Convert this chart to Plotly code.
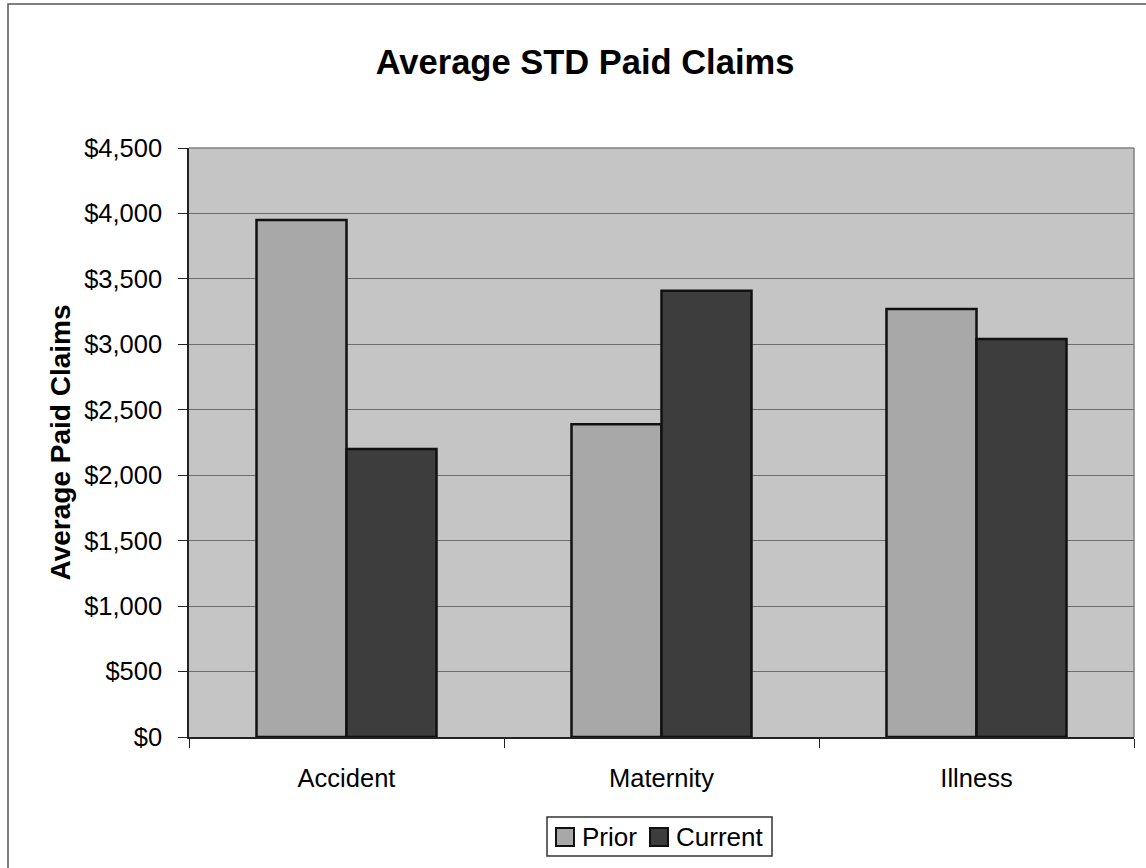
import plotly.graph_objects as go

categories = ["Accident", "Maternity", "Illness"]
prior = [3950, 2390, 3270]
current = [2200, 3410, 3040]
tick_vals = [0, 500, 1000, 1500, 2000, 2500, 3000, 3500, 4000, 4500]
tick_text = ["$0", "$500", "$1,000", "$1,500", "$2,000", "$2,500",
             "$3,000", "$3,500", "$4,000", "$4,500"]

FONT = "Liberation Sans, Arial, sans-serif"
PRIOR_COLOR = "#a8a8a8"
CURRENT_COLOR = "#3d3d3d"
EDGE = "#111111"

# plot-area geometry in pixels
W, H = 1146, 868
L, R, T, B = 189, 12, 148, 131
PW, PH = W - L - R, H - T - B


def px(x):
    return (x - L) / PW


def py(y):
    return (H - B - y) / PH


fig = go.Figure()
fig.add_trace(go.Bar(
    name="Prior", x=categories, y=prior, showlegend=False,
    marker=dict(color=PRIOR_COLOR, line=dict(color=EDGE, width=2.5)),
))
fig.add_trace(go.Bar(
    name="Current", x=categories, y=current, showlegend=False,
    marker=dict(color=CURRENT_COLOR, line=dict(color=EDGE, width=2.5)),
))

fig.update_layout(
    width=W, height=H,
    margin=dict(l=L, r=R, t=T, b=B),
    paper_bgcolor="white",
    plot_bgcolor="#c5c5c5",
    barmode="group",
    bargap=0.4286,
    bargroupgap=0,
    font=dict(family=FONT, color="black", size=25),
    title=dict(text="<b>Average STD Paid Claims</b>", x=0.5105, xanchor="center",
               y=1 - 62 / H, yanchor="middle", font=dict(size=34.5, family=FONT)),
)

fig.update_yaxes(
    range=[0, 4500], tickvals=tick_vals, ticktext=tick_text,
    showgrid=True, gridcolor="#6c6c6c", gridwidth=1.3,
    showline=True, linecolor="#222222", linewidth=1.5,
    ticks="outside", ticklen=9, tickcolor="#222222", ticklabelstandoff=11,
    tickfont=dict(size=25.5),
    title=dict(text="<b>Average Paid Claims</b>", font=dict(size=28), standoff=5),
    zeroline=False,
)
fig.update_xaxes(
    showline=True, linecolor="#222222", linewidth=1.5,
    ticks="outside", ticklen=9, tickcolor="#222222", tickson="boundaries",
    ticklabelstandoff=18, tickfont=dict(size=25.5), showgrid=False,
)

# gray frame on the top and right of the plot area
fig.add_shape(type="line", xref="paper", yref="paper", x0=0, x1=1, y0=1, y1=1,
              line=dict(color="#808080", width=1.5))
fig.add_shape(type="line", xref="paper", yref="paper", x0=1, x1=1, y0=0, y1=1,
              line=dict(color="#808080", width=1.5))

# outer chart border
fig.add_shape(type="rect", xref="paper", yref="paper",
              x0=px(8), x1=px(1150), y0=py(880), y1=py(4),
              line=dict(color="#555555", width=1.5), layer="below")

# legend box with swatches and labels
fig.add_shape(type="rect", xref="paper", yref="paper",
              x0=px(547), x1=px(772), y0=py(856), y1=py(817),
              line=dict(color="#333333", width=1.5), fillcolor="white")
legend_items = [("Prior", PRIOR_COLOR, 556), ("Current", CURRENT_COLOR, 650)]
for name, color, sx in legend_items:
    fig.add_shape(type="rect", xref="paper", yref="paper",
                  x0=px(sx), x1=px(sx + 18), y0=py(846), y1=py(828),
                  line=dict(color=EDGE, width=2), fillcolor=color)
    fig.add_annotation(text=name, xref="paper", yref="paper",
                       x=px(sx + 24), y=py(837), xanchor="left", yanchor="middle",
                       showarrow=False, font=dict(size=26, family=FONT))

fig.write_html("out.html")
